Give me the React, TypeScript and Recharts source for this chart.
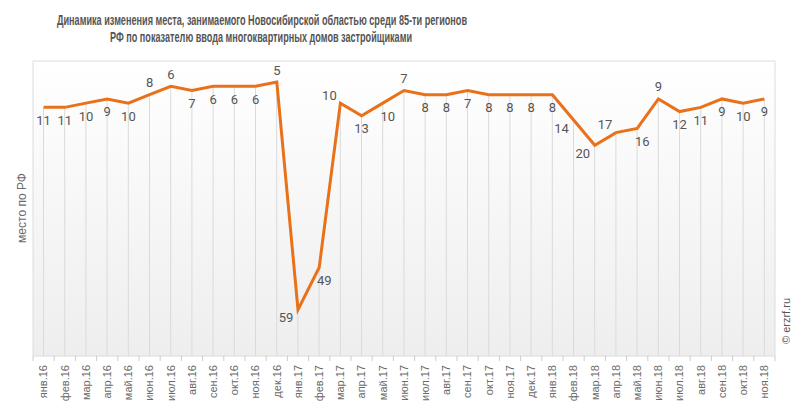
import { ComposedChart, Bar, Line, XAxis, YAxis, CartesianGrid, LabelList, ReferenceArea } from 'recharts';

const months = [
  'янв.16', 'фев.16', 'мар.16', 'апр.16', 'май.16', 'июн.16', 'июл.16', 'авг.16', 'сен.16', 'окт.16', 'ноя.16', 'дек.16',
  'янв.17', 'фев.17', 'мар.17', 'апр.17', 'май.17', 'июн.17', 'июл.17', 'авг.17', 'сен.17', 'окт.17', 'ноя.17', 'дек.17',
  'янв.18', 'фев.18', 'мар.18', 'апр.18', 'май.18', 'июн.18', 'июл.18', 'авг.18', 'сен.18', 'окт.18', 'ноя.18',
];

const ranks = [
  11, 11, 10, 9, 10, 8, 6, 7, 6, 6, 6, 5,
  59, 49, 10, 13, 10, 7, 8, 8, 7, 8, 8, 8,
  8, 14, 20, 17, 16, 9, 12, 11, 9, 10, 9,
];

// where each value label sits relative to its point
const labelSides = [
  'b', 'b', 'b', 'b', 'b', 't', 't', 'b', 'b', 'b', 'b', 't',
  'bl', 'br', 'tl', 'b', 'br', 't', 'b', 'b', 'b', 'b', 'b', 'b',
  'b', 'bl', 'bl', 'tl', 'br', 't', 'b', 'b', 'b', 'b', 'b',
];

const rankMax = 70;

const rows = months.map((month, i) => ({ month, rank: ranks[i] }));

const W = 793;
const H = 415;
const plotLeft = 33;
const plotRight = 775;
const band = (plotRight - plotLeft) / months.length;

const sideOffset: Record<string, [number, number]> = {
  b: [0, 13],
  t: [0, -12],
  bl: [-12, 8],
  br: [5, 13],
  tl: [-11, -8],
};

function ValueLabel(props: any) {
  const { x, y, value, index } = props;
  const [dx, dy] = sideOffset[labelSides[index]] || [0, 13];
  return (
    <text
      x={x + dx}
      y={y + dy}
      textAnchor="middle"
      dominantBaseline="central"
      fontFamily="Roboto, sans-serif"
      fontSize={13}
      fill="#555"
    >
      {value}
    </text>
  );
}

function MonthTick(props: any) {
  const { x, y, payload, index } = props;
  const half = band / 2;
  const ty = y + 9;
  return (
    <g>
      <line x1={x - half} x2={x - half} y1={y} y2={y + 5} stroke="#ccc" />
      {index === months.length - 1 && <line x1={x + half} x2={x + half} y1={y} y2={y + 5} stroke="#ccc" />}
      <text
        x={x}
        y={ty}
        dy="0.35em"
        transform={`rotate(-90, ${x}, ${ty})`}
        textAnchor="end"
        fontFamily="'Liberation Sans', Arial, sans-serif"
        fontSize={11}
        fill="#6a6a6a"
      >
        {payload.value}
      </text>
    </g>
  );
}

export default function App() {
  return (
    <div style={{ position: 'absolute', left: 0, top: 0, width: W, height: H, background: '#fff' }}>
      <ComposedChart width={W} height={H} data={rows} margin={{ top: 61, right: W - plotRight, bottom: 9, left: plotLeft }}>
        <defs>
          <linearGradient id="plotBg" x1="0" y1="0" x2="0" y2="1">
            <stop offset="0%" stopColor="#ffffff" />
            <stop offset="100%" stopColor="#eeeeee" />
          </linearGradient>
        </defs>
        <CartesianGrid horizontal={false} vertical={false} fill="url(#plotBg)" />
        <XAxis
          dataKey="month"
          height={50}
          interval={0}
          tickSize={0}
          tickMargin={0}
          axisLine={false}
          tickLine={false}
          tick={<MonthTick />}
        />
        <YAxis hide reversed domain={[0, rankMax]} />
        <ReferenceArea y1={0} y2={rankMax} fill="none" stroke="#dcdcdc" strokeWidth={1} />
        <Bar dataKey={(d: any) => [d.rank, rankMax]} barSize={1} fill="#dadada" isAnimationActive={false} />
        <Line
          type="linear"
          dataKey="rank"
          stroke="#e8711a"
          strokeWidth={3}
          dot={false}
          activeDot={false}
          isAnimationActive={false}
        >
          <LabelList dataKey="rank" content={<ValueLabel />} />
        </Line>
      </ComposedChart>
      <svg width={W} height={H} style={{ position: 'absolute', left: 0, top: 0, pointerEvents: 'none' }}>
        <g fontFamily="'Liberation Sans Narrow', 'Liberation Sans', Arial, sans-serif" fontWeight="bold" fontSize={15} fill="#555">
          <text x={262} y={19} textAnchor="middle" dominantBaseline="central" textLength={410} lengthAdjust="spacingAndGlyphs">
            Динамика изменения места, занимаемого Новосибирской областью среди 85-ти регионов
          </text>
          <text x={261} y={36} textAnchor="middle" dominantBaseline="central" textLength={302} lengthAdjust="spacingAndGlyphs">
            РФ по показателю ввода многоквартирных домов застройщиками
          </text>
        </g>
        <text
          x={22}
          y={208}
          transform="rotate(-90, 22, 208)"
          textAnchor="middle"
          dominantBaseline="central"
          fontFamily="'Liberation Sans', Arial, sans-serif"
          fontSize={12}
          fill="#6a6a6a"
        >
          место по РФ
        </text>
        <text
          x={786}
          y={321}
          transform="rotate(-90, 786, 321)"
          textAnchor="middle"
          dominantBaseline="central"
          fontFamily="'Liberation Sans', Arial, sans-serif"
          fontSize={11}
          fill="#555"
        >
          © erzrf.ru
        </text>
      </svg>
    </div>
  );
}
